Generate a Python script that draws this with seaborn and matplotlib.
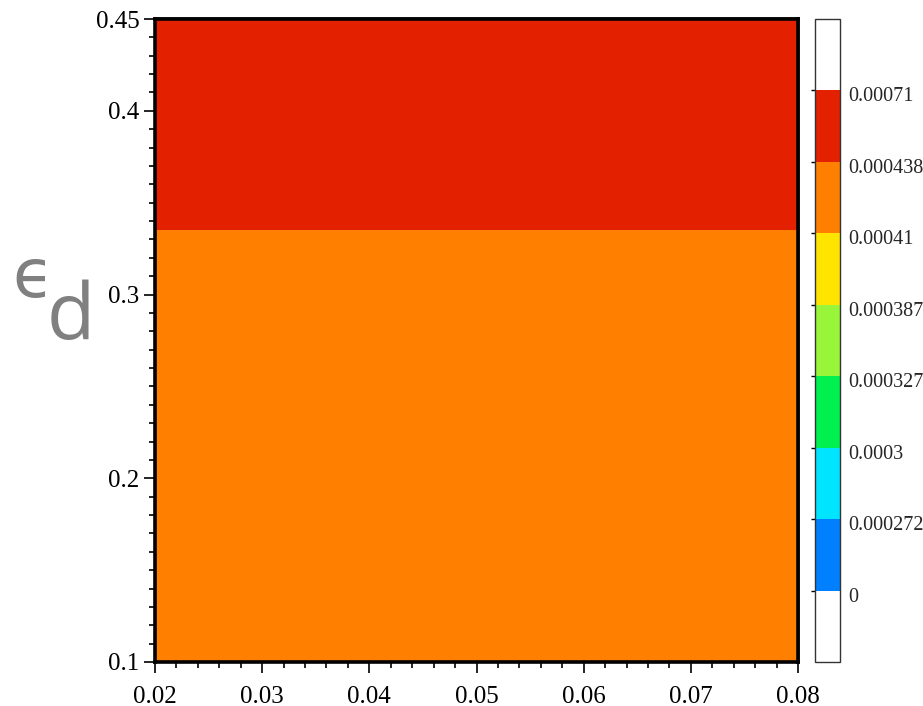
import numpy as np
import matplotlib
matplotlib.use("Agg")
import matplotlib.pyplot as plt
import matplotlib.transforms as mtransforms
from matplotlib.colors import ListedColormap, BoundaryNorm
import seaborn as sns

# ---- data ----
x_edges = [0.02, 0.08]
y_edges = [0.1, 0.335, 0.45]
field_values = [[0.00042], [0.00060]]  # per y-band (bottom, top)

levels = [0, 0.000272, 0.0003, 0.000327, 0.000387, 0.00041, 0.000438, 0.00071]
level_labels = ["0", "0.000272", "0.0003", "0.000327", "0.000387", "0.00041", "0.000438", "0.00071"]
band_colors = ["#0080FF", "#00E5FF", "#00F050", "#99F53A", "#FFE400", "#FF8000", "#E32000"]

x_ticks = [0.02, 0.03, 0.04, 0.05, 0.06, 0.07, 0.08]
x_tick_labels = ["0.02", "0.03", "0.04", "0.05", "0.06", "0.07", "0.08"]
y_ticks = [0.1, 0.2, 0.3, 0.4, 0.45]
y_tick_labels = ["0.1", "0.2", "0.3", "0.4", "0.45"]

sns.set_theme(style="ticks")
plt.rcParams["font.family"] = ["Liberation Serif", "DejaVu Serif"]

fig = plt.figure(figsize=(9.23, 7.06), dpi=100)
ax = fig.add_axes([155 / 923, 1 - 662 / 706, (798 - 155) / 923, (662 - 19) / 706])
cax = fig.add_axes([815 / 923, 1 - 662 / 706, 25 / 923, (662 - 19) / 706])

cmap = ListedColormap(band_colors)
cmap.set_over("white")
cmap.set_under("white")
norm = BoundaryNorm(levels, cmap.N)

mesh = ax.pcolormesh(x_edges, y_edges, np.array(field_values), cmap=cmap, norm=norm,
                     shading="flat")

ax.set_xlim(0.02, 0.08)
ax.set_ylim(0.1, 0.45)
ax.set_xticks(x_ticks)
ax.set_xticklabels(x_tick_labels)
ax.set_yticks(y_ticks)
ax.set_yticklabels(y_tick_labels)
ax.xaxis.set_minor_locator(matplotlib.ticker.MultipleLocator(0.002))
ax.yaxis.set_minor_locator(matplotlib.ticker.MultipleLocator(0.01))
ax.tick_params(which="major", direction="out", length=8, width=1.2, labelsize=18,
               color="black", labelcolor="black")
ax.tick_params(axis="x", which="major", pad=9)
ax.tick_params(axis="y", which="major", pad=3)
ax.tick_params(which="minor", direction="out", length=4, width=1.2, color="black")
ax.tick_params(top=False, right=False, which="both")
for s in ax.spines.values():
    s.set_linewidth(2.6)
    s.set_color("black")

# inward ticks on top and right
secx = ax.secondary_xaxis("top")
secx.set_xticks(x_ticks)
secx.xaxis.set_minor_locator(matplotlib.ticker.MultipleLocator(0.002))
secx.tick_params(which="major", direction="in", length=8, width=1.2, labeltop=False, color="black")
secx.tick_params(which="minor", direction="in", length=4, width=1.2, color="black")
secx.spines["top"].set_linewidth(2.6)
secy = ax.secondary_yaxis("right")
secy.set_yticks(y_ticks)
secy.yaxis.set_minor_locator(matplotlib.ticker.MultipleLocator(0.01))
secy.tick_params(which="major", direction="in", length=8, width=1.2, labelright=False, color="black")
secy.tick_params(which="minor", direction="in", length=4, width=1.2, color="black")
secy.spines["right"].set_linewidth(2.6)

# y label epsilon_d
fig.text(12 / 923, 1 - 297 / 706, "\u03f5", fontsize=48, color="#808080",
         family=["DejaVu Sans"], ha="left", va="baseline")
fig.text(47 / 923, 1 - 339 / 706, "d", fontsize=57, color="#808080",
         family=["Open Sans", "DejaVu Sans"], ha="left", va="baseline")

cb = fig.colorbar(mesh, cax=cax, extend="both", extendrect=True, extendfrac=1 / 7,
                  spacing="uniform", ticks=levels)
cb.set_ticklabels(level_labels)
cb.outline.set_linewidth(1.0)
cb.outline.set_edgecolor("#333333")
cax.yaxis.set_ticks_position("left")
cax.tick_params(which="major", direction="out", length=3, width=1, color="black",
                left=True, right=False, labelleft=False, labelright=True,
                labelsize=14.5, pad=3)
shift = mtransforms.ScaledTranslation(0, -4 / 100, fig.dpi_scale_trans)
for lbl in cax.get_yticklabels():
    lbl.set_transform(lbl.get_transform() + shift)
cax.minorticks_off()

fig.savefig("out.png", dpi=100)
